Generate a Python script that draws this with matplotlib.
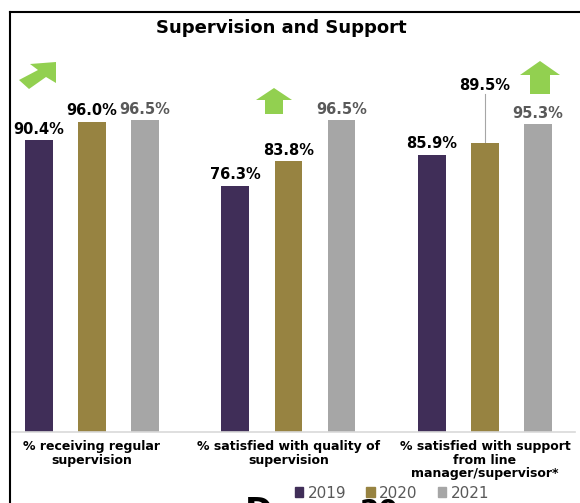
import numpy as np
import matplotlib
matplotlib.use("Agg")
import matplotlib.pyplot as plt
from matplotlib.patches import Patch, Polygon, FancyArrow

# ---- data ----
categories = ["% receiving regular\nsupervision",
              "% satisfied with quality of\nsupervision",
              "% satisfied with support\nfrom line\nmanager/supervisor*"]
years = ["2019", "2020", "2021"]
v2019 = [90.4, 76.3, 85.9]
v2020 = [96.0, 83.8, 89.5]
v2021 = [96.5, 96.5, 95.3]

colors = ["#402e58", "#978341", "#a6a6a6"]
label_colors = ["black", "black", "#595959"]

W, H = 580, 503
fig = plt.figure(figsize=(W / 100, H / 100), dpi=100)
fig.patch.set_facecolor("white")

# main axes placed in pixel terms: baseline at y=432, 0-100 spans 323 px
ax = fig.add_axes([12 / W, (H - 432) / H, 563 / W, 323 / H])
x = np.arange(len(categories))
off, bw = 0.27, 0.142
series = [v2019, v2020, v2021]
for i, vals in enumerate(series):
    pos = x + (i - 1) * off
    ax.bar(pos, vals, width=bw, color=colors[i], zorder=2)
    for j, (p, v) in enumerate(zip(pos, vals)):
        if i == 1 and j == 2:
            # label lifted with leader line
            ax.plot([p, p], [v, 104.6], color="#a6a6a6", lw=0.8, zorder=1, clip_on=False)
            ax.text(p, 105.0, f"{v:.1f}%", ha="center", va="bottom", fontsize=10.5,
                    fontweight="bold", color=label_colors[i], clip_on=False)
        else:
            ax.annotate(f"{v:.1f}%", (p, v), xytext=(0, 2.5), textcoords="offset points",
                        ha="center", va="bottom", fontsize=10.5, fontweight="bold",
                        color=label_colors[i], annotation_clip=False)

ax.set_xlim(-0.407, 2.458)
ax.set_ylim(0, 100)
for s in ["top", "right", "left"]:
    ax.spines[s].set_visible(False)
ax.spines["bottom"].set_color("#d9d9d9")
ax.spines["bottom"].set_linewidth(1.2)
ax.set_yticks([])
ax.set_xticks(x)
ax.set_xticklabels(categories, fontsize=9, fontweight="bold", linespacing=1.05)
ax.tick_params(axis="x", length=0, pad=6)

fig.text(281 / W, 1 - 28 / H, "Supervision and Support", ha="center", va="center",
         fontsize=13, fontweight="bold")

handles = [Patch(color=c) for c in colors]
fig.legend(handles, years, loc="center", bbox_to_anchor=(392 / W, 10 / H), ncol=3,
           frameon=False, fontsize=11, handlelength=0.55, handleheight=0.55,
           columnspacing=1.3, handletextpad=0.3, labelcolor="#595959")

# overlay in pixel coordinates for frame and arrows
ov = fig.add_axes([0, 0, 1, 1], zorder=5)
ov.set_xlim(0, W)
ov.set_ylim(H, 0)
ov.axis("off")
ov.patch.set_visible(False)
ov.plot([10, W], [12, 12], color="black", lw=1.5)
ov.plot([10, 10], [12, H], color="black", lw=1.5)

green = "#92d050"
ov.add_patch(Polygon([(56, 62), (30, 64), (38, 70), (19, 80), (29, 89), (46, 77), (56, 83)],
                     closed=True, color=green, lw=0))
ov.add_patch(FancyArrow(274, 114, 0, -26, width=18, head_width=36, head_length=12,
                        length_includes_head=True, color=green, lw=0))
ov.add_patch(FancyArrow(540, 94, 0, -33, width=20, head_width=40, head_length=14,
                        length_includes_head=True, color=green, lw=0))

# cut-off large text from the slide underneath
ov.text(245, 496, "D", ha="left", va="top", fontsize=24, fontweight="bold", color="black")
ov.text(360, 498, "20", ha="left", va="top", fontsize=20, fontweight="bold", color="black")

fig.savefig("out.png", dpi=100)
